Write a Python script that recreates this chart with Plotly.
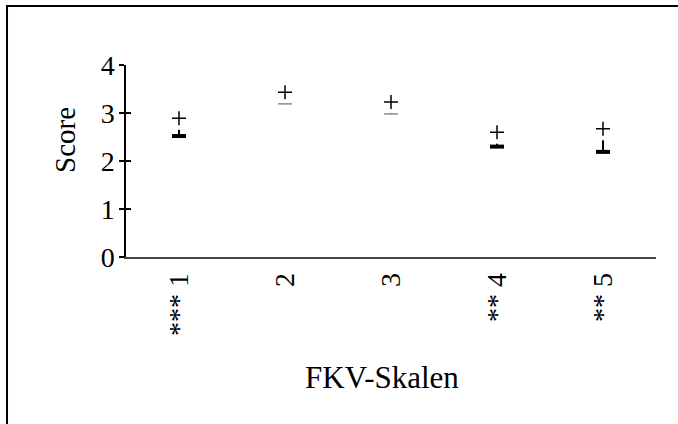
import plotly.graph_objects as go

categories = ["1", "2", "3", "4", "5"]
tick_labels = ["*** 1", "2", "3", "** 4", "** 5"]
plus_values = [2.89, 3.43, 3.23, 2.60, 2.67]
dash_values = [2.52, 3.19, 2.98, 2.30, 2.19]
significant = [True, False, False, True, True]

FONT = "Liberation Serif, Times New Roman, serif"

x_idx = list(range(len(categories)))

# connecting high-low lines
lx, ly = [], []
for i, p, d in zip(x_idx, plus_values, dash_values):
    lx += [i, i, None]
    ly += [p, d, None]

fig = go.Figure()
fig.add_trace(go.Scatter(x=lx, y=ly, mode="lines",
                         line=dict(color="black", width=2),
                         hoverinfo="skip", showlegend=False))
# white background of the plus markers (hides the line near them)
fig.add_trace(go.Scatter(x=x_idx, y=plus_values, mode="markers",
                         marker=dict(symbol="square", size=23, color="white",
                                     line=dict(width=0)),
                         hoverinfo="skip", showlegend=False))
fig.add_trace(go.Scatter(x=x_idx, y=plus_values, mode="markers",
                         marker=dict(symbol="cross-thin", size=10,
                                     line=dict(color="black", width=1.5)),
                         showlegend=False))
fig.add_trace(go.Scatter(x=x_idx, y=dash_values, mode="markers",
                         marker=dict(symbol="line-ew", size=10,
                                     line=dict(color=["black" if s else "#8c8c8c" for s in significant],
                                               width=[4 if s else 1.5 for s in significant])),
                         showlegend=False))

fig.update_layout(
    width=678, height=424,
    margin=dict(l=126, r=22, t=65, b=167),
    paper_bgcolor="white", plot_bgcolor="white",
    font=dict(family=FONT, size=28, color="black"),
    xaxis=dict(range=[-0.5, len(categories) - 0.5], tickmode="array",
               tickvals=x_idx, ticktext=tick_labels, tickangle=-90,
               showgrid=False, zeroline=False, showline=True,
               linecolor="#444", linewidth=1.5, ticks="",
               ticklabelstandoff=3),
    yaxis=dict(range=[0, 4], dtick=1, tick0=0, showgrid=False,
               zeroline=False, showline=True, linecolor="black", linewidth=1.5,
               ticks="outside", ticklen=5, tickwidth=1.5, tickcolor="black",
               ticklabelstandoff=-1),
    yaxis2=dict(range=[0, 4], dtick=1, tick0=0, overlaying="y", side="left",
                anchor="x", showgrid=False, zeroline=False, showline=False,
                ticks="inside", ticklen=5, tickwidth=1.5, tickcolor="black",
                showticklabels=False),
    annotations=[
        dict(text="FKV-Skalen", xref="paper", yref="paper", x=0.483, y=-0.63,
             showarrow=False, xanchor="center", yanchor="middle",
             font=dict(family=FONT, size=31)),
        dict(text="Score", xref="paper", yref="paper", x=-0.115, y=0.61,
             showarrow=False, xanchor="center", yanchor="middle", textangle=-90,
             font=dict(family=FONT, size=29)),
    ],
    shapes=[dict(type="rect", xref="paper", yref="paper",
                 x0=-0.2245, x1=1.3, y0=-1.2, y1=1.307,
                 line=dict(color="black", width=2), layer="below")],
)
# dummy trace to activate yaxis2
fig.add_trace(go.Scatter(x=[None], y=[None], yaxis="y2", showlegend=False,
                         hoverinfo="skip"))

fig.write_html("out.html")
